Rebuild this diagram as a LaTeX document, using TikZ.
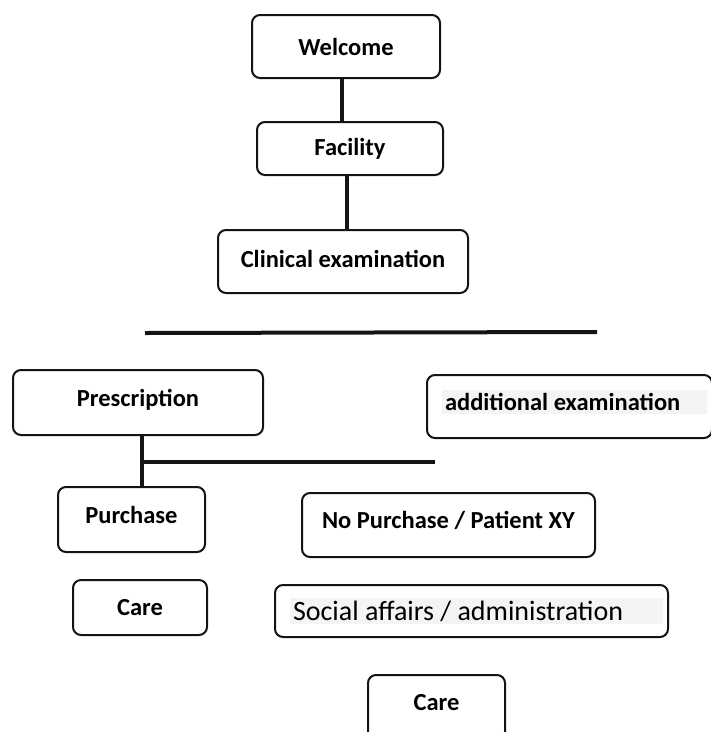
\documentclass[tikz,border=0pt]{standalone}
\usepackage{fontspec}
\setmainfont{Carlito}
\usepackage{tikz}
\usetikzlibrary{positioning,calc}
\definecolor{boxline}{RGB}{20,20,20}
\definecolor{hlgray}{RGB}{244,244,244}
\newcommand{\liftlabel}[1]{\raisebox{10pt}{#1}}
\tikzset{
  stepbox/.style={rectangle, rounded corners=8pt, draw=boxline, line width=2pt,
    fill=white, align=center, inner sep=0pt,
    font=\fontsize{24.5}{28}\selectfont\bfseries},
  link/.style={draw=boxline, line width=4pt},
  sepline/.style={draw=boxline, line width=4pt}
}
\begin{document}
\begin{tikzpicture}[x=1pt, y=-1pt]
  \useasboundingbox (0,0) rectangle (711,732);

  % --- intake ---
  \node[stepbox, minimum width=188pt, minimum height=63pt] (welcome) at (346,46.5) {Welcome};
  \node[stepbox, minimum width=186pt, minimum height=53pt] (facility) at (350,148.5) {Facility};
  \node[stepbox, minimum width=250pt, minimum height=63pt] (clinical) at (343,261.5) {\raisebox{6pt}{Clinical examination}};

  % --- separator ---
  \coordinate (sepL) at (145,333);
  \coordinate (sepR) at (597,332);

  % --- after examination ---
  \node[stepbox, minimum width=250pt, minimum height=65pt] (prescription) at (138,402.5) {\liftlabel{Prescription}};
  \node[stepbox, minimum width=285pt, minimum height=63pt] (additional) at (569.5,406.5)
       {\hspace*{10pt}\raisebox{12pt}{\colorbox{hlgray}{\makebox[259pt][l]{additional examination}}}};

  \node[stepbox, minimum width=147pt, minimum height=65pt] (purchase) at (131.5,519.5) {\liftlabel{Purchase}};
  \node[stepbox, minimum width=293pt, minimum height=64pt] (nopurchase) at (448.5,525) {\liftlabel{No Purchase / Patient XY}};

  \node[stepbox, minimum width=134pt, minimum height=55pt] (careL) at (140,607.5) {Care};
  \node[stepbox, minimum width=393pt, minimum height=52pt] (social) at (471.5,611)
       {\hspace*{10pt}\colorbox{hlgray}{\makebox[367pt][l]{\fontsize{28}{30}\selectfont\mdseries Social affairs / administration}}};

  \node[stepbox, minimum width=137pt, minimum height=65pt] (careB) at (436.5,707.5) {\liftlabel{Care}};

  % ---------------- edges ----------------
  \draw[link] ([xshift=-4pt]welcome.south) -- ([xshift=-8pt]facility.north);
  \draw[link] ([xshift=-3pt]facility.south) -- ([xshift=4pt]clinical.north);

  \draw[sepline] (sepL) -- (sepR);

  % prescription branches
  \coordinate (branch) at (142,462);
  \coordinate (branchend) at (435,462);
  \draw[link] ([xshift=4pt]prescription.south) -- ([xshift=10.5pt]purchase.north);
  \draw[link] (branch) -- (branchend);

\end{tikzpicture}
\end{document}
